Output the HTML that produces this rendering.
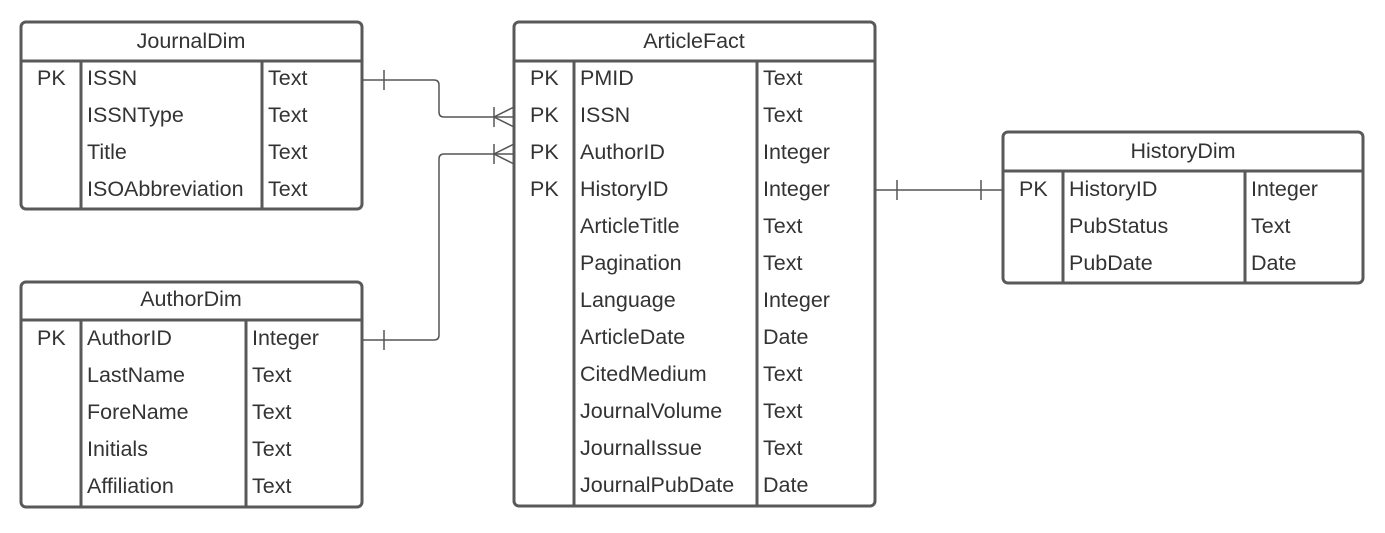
<!DOCTYPE html>
<html><head><meta charset="utf-8"><style>
body{margin:0;background:#fff;width:1385px;height:528px;overflow:hidden}
svg text{font-family:"Liberation Sans",Arial,sans-serif;font-size:21.5px;fill:#333}
</style></head><body>
<svg width="1385" height="528" xmlns="http://www.w3.org/2000/svg">
<g fill="none" stroke="#595959" stroke-width="3">
<rect x="21" y="22" width="341" height="187" rx="5"/>
<line x1="21" y1="61" x2="362" y2="61"/><line x1="81" y1="61" x2="81" y2="209"/><line x1="262" y1="61" x2="262" y2="209"/>
<rect x="514" y="22" width="361" height="484" rx="5"/>
<line x1="514" y1="61" x2="875" y2="61"/><line x1="574" y1="61" x2="574" y2="506"/><line x1="757" y1="61" x2="757" y2="506"/>
<rect x="21" y="282" width="341" height="225" rx="5"/>
<line x1="21" y1="320" x2="362" y2="320"/><line x1="81" y1="320" x2="81" y2="507"/><line x1="246" y1="320" x2="246" y2="507"/>
<rect x="1003" y="132" width="360" height="151" rx="5"/>
<line x1="1003" y1="171" x2="1363" y2="171"/><line x1="1063" y1="171" x2="1063" y2="283"/><line x1="1245" y1="171" x2="1245" y2="283"/>
</g>
<g fill="none" stroke="#555" stroke-width="1.5">
<path d="M363 80 H434 Q439 80 439 85 V112 Q439 117 444 117 H514"/>
<line x1="384" y1="70" x2="384" y2="90"/>
<line x1="494" y1="107" x2="494" y2="127"/><path d="M514 107 L494 117 L514 127"/>
<path d="M363 340 H434 Q439 340 439 335 V159 Q439 154 444 154 H514"/>
<line x1="384" y1="330" x2="384" y2="350"/>
<line x1="494" y1="144" x2="494" y2="164"/><path d="M514 144 L494 154 L514 164"/>
<line x1="876" y1="190" x2="1003" y2="190"/>
<line x1="897" y1="180" x2="897" y2="200"/><line x1="981" y1="180" x2="981" y2="200"/>
</g>
<g>
<text x="191" y="48" text-anchor="middle">JournalDim</text>
<text x="37" y="85">PK</text><text x="87" y="85">ISSN</text><text x="268" y="85">Text</text>
<text x="87" y="122">ISSNType</text><text x="268" y="122">Text</text>
<text x="87" y="159">Title</text><text x="268" y="159">Text</text>
<text x="87" y="196">ISOAbbreviation</text><text x="268" y="196">Text</text>

<text x="191" y="306" text-anchor="middle">AuthorDim</text>
<text x="37" y="345">PK</text><text x="87" y="345">AuthorID</text><text x="252" y="345">Integer</text>
<text x="87" y="382">LastName</text><text x="252" y="382">Text</text>
<text x="87" y="419">ForeName</text><text x="252" y="419">Text</text>
<text x="87" y="456">Initials</text><text x="252" y="456">Text</text>
<text x="87" y="493">Affiliation</text><text x="252" y="493">Text</text>

<text x="1183" y="158" text-anchor="middle">HistoryDim</text>
<text x="1019" y="196">PK</text><text x="1069" y="196">HistoryID</text><text x="1251" y="196">Integer</text>
<text x="1069" y="233">PubStatus</text><text x="1251" y="233">Text</text>
<text x="1069" y="270">PubDate</text><text x="1251" y="270">Date</text>

<text x="694" y="48" text-anchor="middle">ArticleFact</text>
<text x="530" y="85">PK</text><text x="580" y="85">PMID</text><text x="763" y="85">Text</text>
<text x="530" y="122">PK</text><text x="580" y="122">ISSN</text><text x="763" y="122">Text</text>
<text x="530" y="159">PK</text><text x="580" y="159">AuthorID</text><text x="763" y="159">Integer</text>
<text x="530" y="196">PK</text><text x="580" y="196">HistoryID</text><text x="763" y="196">Integer</text>
<text x="580" y="233">ArticleTitle</text><text x="763" y="233">Text</text>
<text x="580" y="270">Pagination</text><text x="763" y="270">Text</text>
<text x="580" y="307">Language</text><text x="763" y="307">Integer</text>
<text x="580" y="344">ArticleDate</text><text x="763" y="344">Date</text>
<text x="580" y="381">CitedMedium</text><text x="763" y="381">Text</text>
<text x="580" y="418">JournalVolume</text><text x="763" y="418">Text</text>
<text x="580" y="455">JournalIssue</text><text x="763" y="455">Text</text>
<text x="580" y="492">JournalPubDate</text><text x="763" y="492">Date</text>
</g>
</svg>
</body></html>
